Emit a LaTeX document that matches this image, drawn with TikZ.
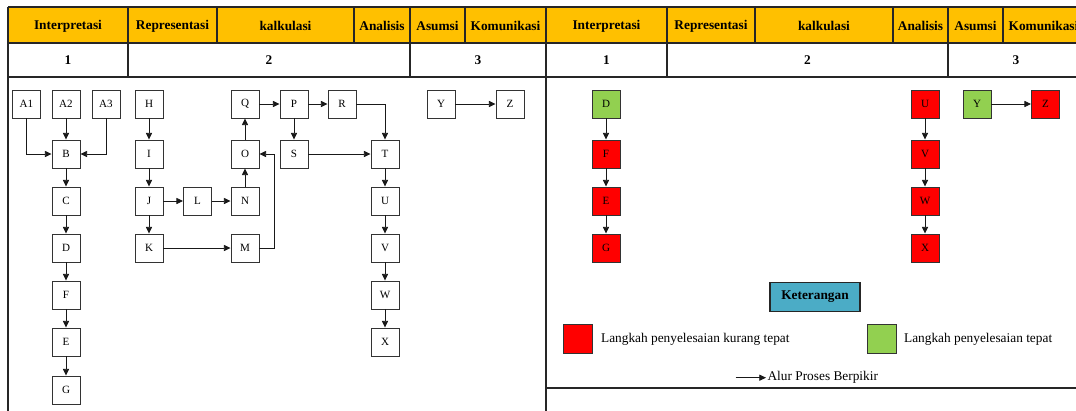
\documentclass[tikz,border=0pt]{standalone}
\usepackage{fontspec}
\setmainfont{Liberation Serif}
\usetikzlibrary{arrows.meta}
\definecolor{hdr}{HTML}{FFC000}
\definecolor{wrong}{HTML}{FF0000}
\definecolor{right}{HTML}{92D050}
\definecolor{ketc}{HTML}{4BACC6}
\begin{document}
\begin{tikzpicture}[x=0.75pt,y=-0.75pt,
  box/.style={draw=black!80, line width=0.7pt, minimum width=21pt, minimum height=21pt, inner sep=0pt, font=\fontsize{8.3}{9}\selectfont},
  rbox/.style={box, fill=wrong},
  gbox/.style={box, fill=right},
  arr/.style={-{Triangle[length=5pt,width=4.6pt]}, line width=0.6pt, draw=black!90},
  tbl/.style={draw=black!85, line width=1pt},
  hd/.style={font=\fontsize{10}{12}\bfseries\selectfont, inner sep=0pt},
  txt/.style={font=\fontsize{10}{12}\selectfont, inner sep=1pt},
]
\useasboundingbox (0,0) rectangle (1076,411);
\begin{scope}
\clip (0,0) rectangle (1076,411);
% ---------- tables ----------
\fill[hdr] (8,7) rectangle (1090,43);
\draw[tbl] (8,7) -- (1090,7);
\draw[tbl] (8,43) -- (1090,43);
\draw[tbl] (8,77) -- (1090,77);
\draw[tbl] (8,7) -- (8,411);
\draw[tbl] (546,7) -- (546,411);
\foreach \x in {128,217,354,410,465,667,755,893,948,1003} \draw[tbl] (\x,7) -- (\x,43);
\foreach \x in {128,410,667,948} \draw[tbl] (\x,43) -- (\x,77);
\draw[tbl] (546,388) -- (1090,388);
% header texts
\node[hd] (l1) at (68,26) {Interpretasi};
\node[hd] (l2) at (172.5,26) {Representasi};
\node[hd] (l3) at (285.5,26) {kalkulasi};
\node[hd] (l4) at (382,26) {Analisis};
\node[hd] (l5) at (437.5,26) {Asumsi};
\node[hd] (l6) at (505.5,26) {Komunikasi};
\node[hd] (n1) at (68,60) {1};
\node[hd] (n2) at (269,60) {2};
\node[hd] (n3) at (478,60) {3};
\node[hd] (r1) at (606.5,26) {Interpretasi};
\node[hd] (r2) at (711,26) {Representasi};
\node[hd] (r3) at (824,26) {kalkulasi};
\node[hd] (r4) at (920.5,26) {Analisis};
\node[hd] (r5) at (975.5,26) {Asumsi};
\node[hd] (r6) at (1043.5,26) {Komunikasi};
\node[hd] (m1) at (606.5,60) {1};
\node[hd] (m2) at (807.5,60) {2};
\node[hd] (m3) at (1016,60) {3};
% ---------- left diagram ----------
\node[box] (A1) at (26.5,104) {A1};
\node[box] (A2) at (66,104) {A2};
\node[box] (A3) at (106,104) {A3};
\node[box] (B) at (66,154) {B};
\node[box] (C) at (66,201) {C};
\node[box] (D) at (66,248) {D};
\node[box] (F) at (66,295) {F};
\node[box] (E) at (66,342) {E};
\node[box] (G) at (66,390) {G};
\node[box] (H) at (149,104) {H};
\node[box] (I) at (149,154) {I};
\node[box] (J) at (149,201) {J};
\node[box] (K) at (149,248) {K};
\node[box] (L) at (197.5,201) {L};
\node[box] (N) at (245,201) {N};
\node[box] (M) at (245,248) {M};
\node[box] (O) at (245,154) {O};
\node[box] (Q) at (245,104) {Q};
\node[box] (P) at (294,104) {P};
\node[box] (S) at (294,154) {S};
\node[box] (R) at (342,104) {R};
\node[box] (T) at (385,154) {T};
\node[box] (U) at (385,201) {U};
\node[box] (V) at (385,248) {V};
\node[box] (W) at (385,295) {W};
\node[box] (X) at (385,342) {X};
\node[box] (Y) at (441,104) {Y};
\node[box] (Z) at (510,104) {Z};
\draw[arr] (A1.south) |- (B.west);
\draw[arr] (A2) -- (B);
\draw[arr] (A3.south) |- (B.east);
\draw[arr] (B) -- (C);
\draw[arr] (C) -- (D);
\draw[arr] (D) -- (F);
\draw[arr] (F) -- (E);
\draw[arr] (E) -- (G);
\draw[arr] (H) -- (I);
\draw[arr] (I) -- (J);
\draw[arr] (J) -- (K);
\draw[arr] (J) -- (L);
\draw[arr] (L) -- (N);
\draw[arr] (N) -- (O);
\draw[arr] (O) -- (Q);
\draw[arr] (Q) -- (P);
\draw[arr] (P) -- (R);
\draw[arr] (P) -- (S);
\draw[arr] (S) -- (T);
\draw[arr] (R.east) -| (T.north);
\draw[arr] (K) -- (M);
\draw[arr] (M.east) -- ++(15,0) |- (O.east);
\draw[arr] (T) -- (U);
\draw[arr] (U) -- (V);
\draw[arr] (V) -- (W);
\draw[arr] (W) -- (X);
\draw[arr] (Y) -- (Z);
% ---------- right diagram ----------
\node[gbox] (D2) at (606,104) {D};
\node[rbox] (F2) at (606,154) {F};
\node[rbox] (E2) at (606,201) {E};
\node[rbox] (G2) at (606,248) {G};
\node[rbox] (U2) at (925,104) {U};
\node[rbox] (V2) at (925,154) {V};
\node[rbox] (W2) at (925,201) {W};
\node[rbox] (X2) at (925,248) {X};
\node[gbox] (Y2) at (977,104) {Y};
\node[rbox] (Z2) at (1045.5,104) {Z};
\draw[arr] (D2) -- (F2);
\draw[arr] (F2) -- (E2);
\draw[arr] (E2) -- (G2);
\draw[arr] (U2) -- (V2);
\draw[arr] (V2) -- (W2);
\draw[arr] (W2) -- (X2);
\draw[arr] (Y2) -- (Z2);
% ---------- legend ----------
\node[draw=black!85, line width=0.8pt, fill=ketc, minimum width=67.5pt, minimum height=21.75pt, inner sep=0pt, font=\fontsize{10}{12}\bfseries\selectfont] (ket) at (815,297) {Keterangan};
\node[draw=black!80, line width=0.7pt, fill=wrong, minimum width=21.75pt, minimum height=21.75pt, inner sep=0pt] (lr) at (577.5,339) {};
\node[txt, anchor=west] (lrt) at (599.5,339) {Langkah penyelesaian kurang tepat};
\node[draw=black!80, line width=0.7pt, fill=right, minimum width=21.75pt, minimum height=21.75pt, inner sep=0pt] (lg) at (881.5,339) {};
\node[txt, anchor=west] (lgt) at (902.5,339) {Langkah penyelesaian tepat};
\coordinate (a0) at (735.6,377.7);
\node[txt, anchor=west] (alur) at (766,377.7) {Alur Proses Berpikir};
\draw[arr] (a0) -- (alur.west);
\end{scope}
\end{tikzpicture}
\end{document}
